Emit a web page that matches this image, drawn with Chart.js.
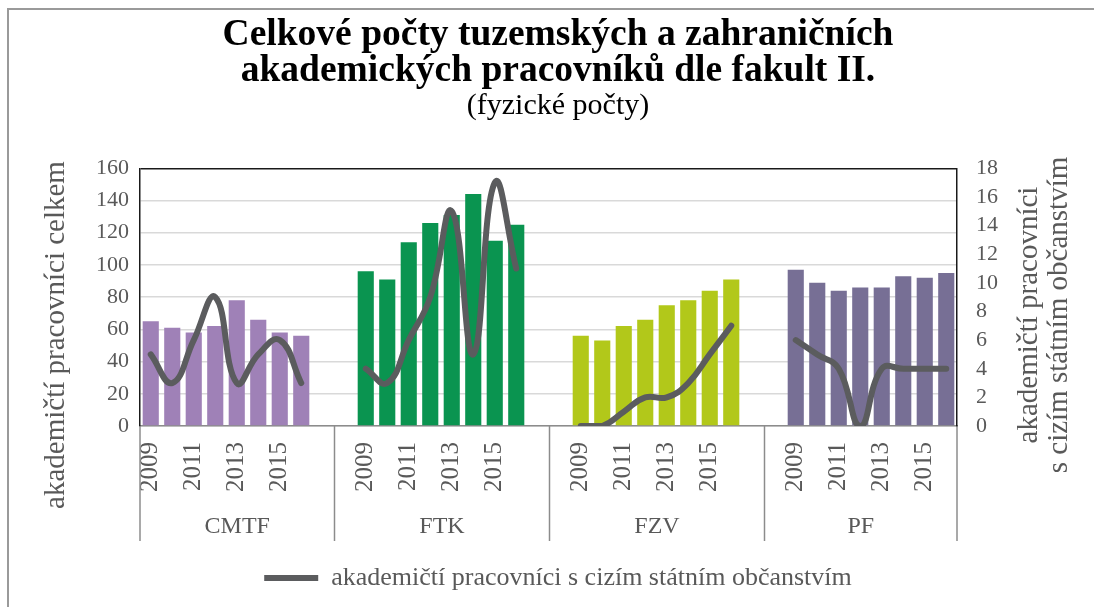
<!DOCTYPE html>
<html>
<head>
<meta charset="utf-8">
<script src="https://cdn.jsdelivr.net/npm/chart.js@4/dist/chart.umd.min.js"></script>
<style>
  html, body { margin: 0; padding: 0; background: #fff; overflow: hidden; }
  #wrap { position: relative; width: 1094px; height: 607px; overflow: hidden; }
</style>
</head>
<body>
<div id="wrap">
  <canvas id="c" width="1094" height="607"></canvas>
</div>
<script>
// ---- data ----
const faculties = ['CMTF', 'FTK', 'FZV', 'PF'];
const years = ['2009', '2010', '2011', '2012', '2013', '2014', '2015', '2016'];
const shownYears = ['2009', '2011', '2013', '2015'];
const totalCMTF = [65, 61, 58, 62, 78, 66, 58, 56];
const totalFTK  = [96, 91, 114, 126, 131, 144, 115, 125];
const totalFZV  = [56, 53, 62, 66, 75, 78, 84, 91];
const totalPF   = [97, 89, 84, 86, 86, 93, 92, 95];
const foreignCMTF = [5, 3, 6, 9, 3, 5, 6, 3];
const foreignFTK  = [4, 3, 6, 9, 15, 5, 17, 11];
const foreignFZV  = [0, 0, 1, 2, 2, 3, 5, 7];
const foreignPF   = [6, 5, 4, 0, 4, 4, 4, 4];
const leftTicks = [0, 20, 40, 60, 80, 100, 120, 140, 160];
const rightTicks = [0, 2, 4, 6, 8, 10, 12, 14, 16, 18];
const facultyColors = ['#9f81b7', '#0a9450', '#b2c81a', '#776f95'];

const totals = [totalCMTF, totalFTK, totalFZV, totalPF];
const foreign = [foreignCMTF, foreignFTK, foreignFZV, foreignPF];

// build category slots: 8 years per faculty, two empty slots between faculties
const labels = [], barData = [], lineData = [], barColors = [];
const groupSpans = [];
faculties.forEach((f, g) => {
  const start = labels.length;
  years.forEach((y, i) => {
    labels.push(y);
    barData.push(totals[g][i]);
    lineData.push(foreign[g][i]);
    barColors.push(facultyColors[g]);
  });
  groupSpans.push({ name: f, first: start, last: start + years.length - 1 });
  if (g < faculties.length - 1) {
    for (let k = 0; k < 2; k++) {
      labels.push('');
      barData.push(null);
      lineData.push(null);
      barColors.push('rgba(0,0,0,0)');
    }
  }
});

const SERIF = "'Liberation Serif', 'Times New Roman', serif";
const TXT = '#595959';

const groupPlugin = {
  id: 'groupPlugin',
  beforeDraw(chart) {
    const ctx = chart.ctx;
    ctx.save();
    ctx.fillStyle = '#fff';
    ctx.fillRect(0, 0, chart.width, chart.height);
    ctx.strokeStyle = '#9a9a9a';
    ctx.lineWidth = 2;
    ctx.beginPath();
    ctx.moveTo(8, chart.height);
    ctx.lineTo(8, 9);
    ctx.lineTo(chart.width, 9);
    ctx.stroke();
    ctx.restore();
  },
  afterDraw(chart) {
    const ctx = chart.ctx;
    const xs = chart.scales.x;
    const area = chart.chartArea;
    const half = (xs.getPixelForValue(1) - xs.getPixelForValue(0)) / 2;
    // boundary between groups: left edge of the empty slot before each group's first year
    const b2 = [area.left];
    for (let g = 1; g < groupSpans.length; g++) {
      b2.push(Math.round(xs.getPixelForValue(groupSpans[g].first - 1) - half) + 0.5);
    }
    b2.push(area.right);
    ctx.save();
    ctx.strokeStyle = '#8c8c8c';
    ctx.lineWidth = 1.5;
    b2.forEach(x => {
      ctx.beginPath();
      ctx.moveTo(x, area.bottom);
      ctx.lineTo(x, 541);
      ctx.stroke();
    });
    ctx.fillStyle = TXT;
    ctx.font = '24px ' + SERIF;
    ctx.textAlign = 'center';
    ctx.textBaseline = 'middle';
    for (let g = 0; g < groupSpans.length; g++) {
      ctx.fillText(groupSpans[g].name, (b2[g] + b2[g + 1]) / 2, 527);
    }
    // axis titles
    ctx.font = '29px ' + SERIF;
    ctx.save();
    ctx.translate(56, 335);
    ctx.rotate(-Math.PI / 2);
    ctx.fillText('akademičtí pracovníci celkem', 0, 0);
    ctx.restore();
    ctx.save();
    ctx.translate(1029, 315);
    ctx.rotate(-Math.PI / 2);
    ctx.fillText('akademičtí pracovníci', 0, 0);
    ctx.restore();
    ctx.save();
    ctx.translate(1059, 315);
    ctx.rotate(-Math.PI / 2);
    ctx.fillText('s cizím státním občanstvím', 0, 0);
    ctx.restore();
    ctx.restore();
  }
};

new Chart(document.getElementById('c'), {
  data: {
    labels: labels,
    datasets: [
      {
        type: 'line',
        label: 'akademičtí pracovníci s cizím státním občanstvím',
        data: lineData,
        yAxisID: 'y2',
        borderColor: '#5b5c5e',
        backgroundColor: '#5b5c5e',
        borderWidth: 6,
        borderCapStyle: 'round',
        borderJoinStyle: 'round',
        pointRadius: 0,
        pointHoverRadius: 0,
        tension: 0.45,
        spanGaps: false,
        order: 0
      },
      {
        type: 'bar',
        label: 'akademičtí pracovníci celkem',
        data: barData,
        yAxisID: 'y',
        backgroundColor: barColors,
        barPercentage: 0.75,
        categoryPercentage: 1.0,
        order: 1
      }
    ]
  },
  options: {
    responsive: false,
    animation: false,
    events: [],
    layout: { padding: { left: 22, right: 0, top: 0, bottom: 6 } },
    plugins: {
      title: {
        display: true,
        text: ['Celkové počty tuzemských a zahraničních', 'akademických pracovníků dle fakult II.'],
        color: '#000',
        font: { family: SERIF, size: 37.5, weight: 'bold', lineHeight: 0.97 },
        padding: { top: 17, bottom: 0 }
      },
      subtitle: {
        display: true,
        text: '(fyzické počty)',
        color: '#000',
        font: { family: SERIF, size: 30, lineHeight: 1.05 },
        padding: { top: 1, bottom: 46 }
      },
      legend: {
        display: true,
        position: 'bottom',
        labels: {
          filter: item => item.datasetIndex === 0,
          usePointStyle: true,
          pointStyle: 'line',
          pointStyleWidth: 54,
          color: TXT,
          font: { family: SERIF, size: 26 },
          padding: 10
        }
      },
      tooltip: { enabled: false }
    },
    scales: {
      x: {
        type: 'category',
        grid: { display: false },
        border: { display: true, color: '#8c8c8c', width: 1.5 },
        ticks: {
          autoSkip: false,
          minRotation: 90,
          maxRotation: 90,
          padding: 8,
          color: TXT,
          font: { family: SERIF, size: 25 },
          callback: function (v, i) {
            const l = labels[i];
            return shownYears.includes(l) ? l : '';
          }
        },
        afterFit: s => { s.height = 129; }
      },
      y: {
        type: 'linear',
        position: 'left',
        min: 0,
        max: 160,
        afterBuildTicks: s => { s.ticks = leftTicks.map(v => ({ value: v })); },
        grid: {
          drawTicks: false,
          color: c => (c.tick && c.tick.value === 160) ? '#1a1a1a' : '#d9d9d9',
          lineWidth: 1.5
        },
        border: { display: true, color: '#1a1a1a', width: 1.5 },
        ticks: { autoSkip: false, padding: 11, color: TXT, font: { family: SERIF, size: 22 } },
        afterFit: s => { s.width = 118; }
      },
      y2: {
        type: 'linear',
        position: 'right',
        min: 0,
        max: 18,
        afterBuildTicks: s => { s.ticks = rightTicks.map(v => ({ value: v })); },
        grid: { display: false, drawTicks: false },
        border: { display: true, color: '#1a1a1a', width: 1.5 },
        ticks: { autoSkip: false, padding: 19, color: TXT, font: { family: SERIF, size: 22 } },
        afterFit: s => { s.width = 137; }
      }
    }
  },
  plugins: [groupPlugin]
});
</script>
</body>
</html>
